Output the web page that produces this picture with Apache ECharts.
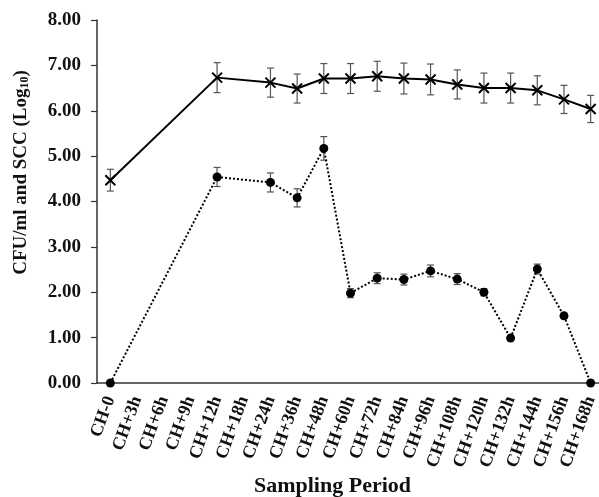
<!DOCTYPE html>
<html>
<head>
<meta charset="utf-8">
<script src="https://cdn.jsdelivr.net/npm/echarts@6/dist/echarts.min.js"></script>
<style>
  html, body { margin: 0; padding: 0; background: #fff; }
  #chart { width: 599px; height: 497px; }
</style>
</head>
<body>
<div id="chart"></div>
<script>
// sampling periods (x axis)
var categories = ['CH-0', 'CH+3h', 'CH+6h', 'CH+9h', 'CH+12h', 'CH+18h', 'CH+24h', 'CH+36h', 'CH+48h',
  'CH+60h', 'CH+72h', 'CH+84h', 'CH+96h', 'CH+108h', 'CH+120h', 'CH+132h', 'CH+144h', 'CH+156h', 'CH+168h'];

// upper curve (solid line, x markers)
var sccValues = [4.47, null, null, null, 6.73, null, 6.62, 6.49, 6.71, 6.71, 6.76, 6.71, 6.69, 6.58, 6.50, 6.50, 6.45, 6.25, 6.04];
var sccErr = [0.24, null, null, null, 0.33, null, 0.32, 0.32, 0.33, 0.33, 0.33, 0.34, 0.34, 0.32, 0.33, 0.33, 0.32, 0.31, 0.30];

// lower curve (dotted line, filled markers)
var cfuValues = [0, null, null, null, 4.54, null, 4.42, 4.08, 5.17, 1.98, 2.31, 2.28, 2.47, 2.29, 2.00, 0.99, 2.51, 1.48, 0];
var cfuErr = [0, null, null, null, 0.21, null, 0.21, 0.20, 0.26, 0.10, 0.12, 0.12, 0.13, 0.12, 0.08, 0.05, 0.11, 0.06, 0];

var yTicks = [0, 1, 2, 3, 4, 5, 6, 7, 8];

function errData(vals, errs) {
  var out = [];
  for (var i = 0; i < vals.length; i++) {
    if (vals[i] == null || !errs[i]) continue;
    out.push([i, vals[i] - errs[i], vals[i] + errs[i]]);
  }
  return out;
}

// draw error bar with caps
function renderErr(params, api) {
  var x = api.value(0);
  var lo = api.coord([x, api.value(1)]);
  var hi = api.coord([x, api.value(2)]);
  var w = 3.5;
  var st = { stroke: '#555', lineWidth: 1.2 };
  return {
    type: 'group',
    children: [
      { type: 'line', shape: { x1: lo[0], y1: lo[1], x2: hi[0], y2: hi[1] }, style: st },
      { type: 'line', shape: { x1: hi[0] - w, y1: hi[1], x2: hi[0] + w, y2: hi[1] }, style: st },
      { type: 'line', shape: { x1: lo[0] - w, y1: lo[1], x2: lo[0] + w, y2: lo[1] }, style: st }
    ]
  };
}

var font = 'Liberation Serif';
var chart = echarts.init(document.getElementById('chart'));
chart.setOption({
  animation: false,
  backgroundColor: '#fff',
  grid: { left: 97, right: -5, top: 20, bottom: 114, outerBoundsMode: 'none' },
  xAxis: {
    type: 'category',
    data: categories,
    boundaryGap: true,
    name: 'Sampling Period',
    nameLocation: 'middle',
    nameGap: 92,
    nameMoveOverlap: false,
    nameTextStyle: { fontFamily: font, fontWeight: 'bold', fontSize: 22, color: '#111', padding: [0, 36, 0, 0] },
    axisLine: { lineStyle: { color: '#333', width: 1.5 } },
    axisTick: { alignWithLabel: false, length: 6, lineStyle: { color: '#333', width: 1.2 } },
    axisLabel: { rotate: 70, interval: 0, margin: 14, fontFamily: font, fontWeight: 'bold', fontSize: 18, color: '#111' },
    splitLine: { show: false }
  },
  yAxis: {
    type: 'value',
    min: yTicks[0],
    max: yTicks[yTicks.length - 1],
    interval: 1,
    name: 'CFU/ml and SCC (Log{sub|10})',
    nameLocation: 'middle',
    nameGap: 66,
    nameTextStyle: {
      fontFamily: font, fontWeight: 'bold', fontSize: 19, color: '#111', padding: [0, 0, 0, 58],
      rich: { sub: { fontFamily: font, fontWeight: 'bold', fontSize: 12, color: '#111', padding: [8, 0, 0, 0] } }
    },
    axisLine: { show: true, lineStyle: { color: '#333', width: 1.5 } },
    axisTick: { show: true, length: 6, lineStyle: { color: '#333', width: 1.2 } },
    axisLabel: {
      margin: 16, fontFamily: font, fontWeight: 'bold', fontSize: 19, color: '#111',
      formatter: function (v) { return v.toFixed(2); }
    },
    splitLine: { show: false }
  },
  series: [
    {
      type: 'custom',
      renderItem: renderErr,
      data: errData(sccValues, sccErr),
      encode: { x: 0, y: [1, 2] },
      z: 1
    },
    {
      type: 'custom',
      renderItem: renderErr,
      data: errData(cfuValues, cfuErr),
      encode: { x: 0, y: [1, 2] },
      z: 1
    },
    {
      name: 'SCC',
      type: 'line',
      data: sccValues,
      connectNulls: true,
      symbol: 'path://M0,0L10,10M10,0L0,10',
      symbolSize: 10,
      lineStyle: { color: '#000', width: 2 },
      itemStyle: { color: 'none', borderColor: '#000', borderWidth: 2 },
      z: 3
    },
    {
      name: 'CFU',
      type: 'line',
      data: cfuValues,
      connectNulls: true,
      symbol: 'circle',
      symbolSize: 9,
      lineStyle: { color: '#000', width: 2, type: [2, 2] },
      itemStyle: { color: '#000' },
      z: 3
    }
  ]
});
</script>
</body>
</html>
